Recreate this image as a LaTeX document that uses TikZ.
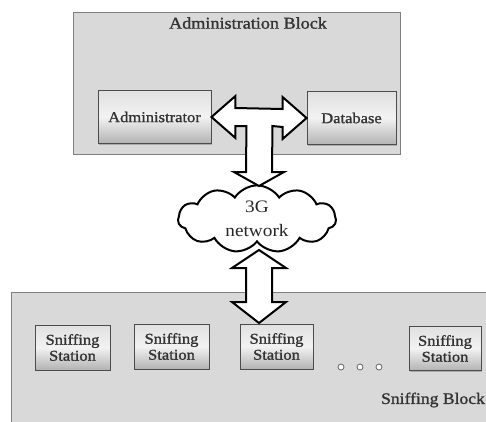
\documentclass[tikz,border=0pt]{standalone}
\usepackage{fontspec}
\setmainfont{Liberation Serif}
\newfontfamily\widefont[FakeStretch=1.1]{Liberation Serif}
\newfontfamily\semifont[FakeStretch=1.1,FakeBold=1.2]{Liberation Serif}
\usetikzlibrary{shapes.symbols,calc,shadows}
\definecolor{blockgray}{HTML}{D9D9D9}
\definecolor{edgegray}{HTML}{7F7F7F}
\tikzset{
  block/.style={draw=edgegray, line width=0.9pt, fill=blockgray},
  unit/.style={draw=black!70, line width=0.9pt, top color=black!12, bottom color=black!30, middle color=white!95!black,
    drop shadow={shadow xshift=1.2pt, shadow yshift=-1.2pt, opacity=0.5},
    align=center, inner sep=0pt, text=black!80, font=\semifont\fontsize{15}{16}\selectfont},
  fat/.style={draw=black, line width=2pt, fill=white, line join=miter},
  lbl/.style={font=\semifont\fontsize{16.5}{18}\selectfont, text=black!80},
  cloudtxt/.style={font=\widefont\fontsize{17.5}{24}\selectfont, text=black!85},
  dot/.style={circle, draw=black!55, line width=0.9pt, fill=white, minimum size=6pt, inner sep=0pt},
}
\begin{document}
\begin{tikzpicture}[x=1pt,y=-1pt]
\useasboundingbox (0,0) rectangle (486,421);
\clip (0,0) rectangle (486,421);
% blocks
\node[block, minimum width=327pt, minimum height=142pt, anchor=north west, inner sep=0pt] (admblk) at (73,12) {};
\node[block, minimum width=500pt, minimum height=150pt, anchor=north west, inner sep=0pt] (snfblk) at (11,292) {};
\node[lbl, anchor=center] (admtitle) at (248,23) {Administration Block};
\node[lbl, anchor=center, font=\semifont\fontsize{16}{18}\selectfont] (snftitle) at (433,400) {Sniffing Block};
% admin units
\node[unit, minimum width=113pt, minimum height=53pt] (adm) at (154.5,117) {Administrator};
\node[unit, minimum width=89pt, minimum height=53pt] (db) at (351.5,118) {Database};
% stations
\node[unit, minimum width=75pt, minimum height=45pt] (s1) at (72.5,347.5) {Sniffing\\Station};
\node[unit, minimum width=75pt, minimum height=45pt] (s2) at (171.5,346.5) {Sniffing\\Station};
\node[unit, minimum width=73pt, minimum height=45pt] (s3) at (276.5,346.5) {Sniffing\\Station};
\node[unit, minimum width=72pt, minimum height=44pt] (s4) at (445,348.5) {Sniffing\\Station};
\node[dot] (d1) at (341,367) {};
\node[dot] (d2) at (360,367) {};
\node[dot] (d3) at (379,367) {};
% lower double arrow (cloud to station)
\coordinate (lowtop) at (259,250);
\coordinate (lowbot) at (259,323);
\draw[fat] (lowtop) -- ++(27,18) -- ++(-14,0) -- ($(lowbot)+(13,-21)$) -- ++(14,0) -- (lowbot)
  -- ++(-27,-21) -- ++(14,0) -- ($(lowtop)+(-13,18)$) -- ++(-14,0) -- cycle;
% cloud
\node[cloud, draw=black, line width=2pt, fill=white, cloud puffs=11, cloud puff arc=115, aspect=2.4,
  minimum width=158pt, minimum height=67pt, inner sep=0pt, cloudtxt, align=center] (net) at (257,219) {3G\\network};
% T-shaped arrow
\coordinate (tl) at (adm.east);
\coordinate (tr) at (db.west);
\coordinate (tb) at (259,186);
\draw[fat] (tl) -- ++(24,-21) -- ++(0,12) -- ($(tr)+(-24,-9)$) -- ++(0,-12) -- (tr)
  -- ++(-24,21) -- ++(0,-12) -- ($(tl)+(61,9)$) -- ($(tb)+(13,-14)$) -- ++(12,0) -- (tb)
  -- ++(-25,-14) -- ++(12,0) -- ($(tl)+(35,9)$) -- ++(-11,0) -- ++(0,12) -- cycle;
\end{tikzpicture}
\end{document}
